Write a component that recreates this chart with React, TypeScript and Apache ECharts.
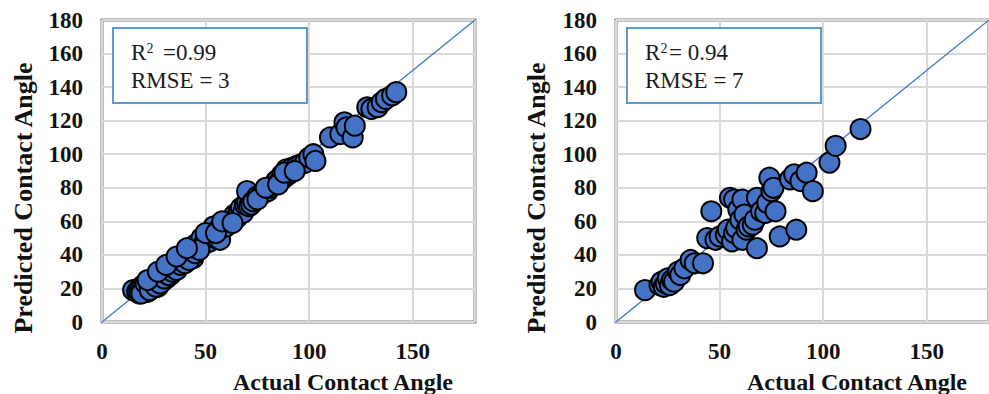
import React, { useEffect, useRef } from "react";
import * as echarts from "echarts";

// Left panel: actual vs predicted contact angle
const leftActual = [15, 17, 18, 18, 19, 20, 20, 21, 22, 22, 23, 23, 24, 24, 25, 25, 26, 26, 27, 27, 28, 28, 29, 29, 30, 30, 31, 31, 32, 32, 33, 33, 34, 34, 35, 35, 36, 37, 37, 38, 39, 39, 40, 41, 42, 43, 44, 44, 45, 46, 47, 48, 48, 49, 50, 51, 52, 53, 54, 55, 56, 57, 58, 59, 60, 61, 62, 64, 65, 66, 67, 68, 69, 70, 70, 71, 72, 73, 75, 77, 78, 80, 81, 83, 84, 85, 86, 87, 88, 89, 90, 91, 92, 94, 96, 98, 100, 102, 103, 110, 115, 117, 118, 121, 122, 128, 130, 133, 135, 137, 140, 142, 19, 21, 23, 26, 28, 30, 32, 34, 36, 38, 40, 42, 45, 47, 22, 27, 31, 36, 41, 50, 55, 58, 63, 75, 79, 85, 88, 93];
const leftPredicted = [19, 18, 20, 17, 21, 19, 22, 20, 18, 23, 21, 19, 20, 24, 22, 26, 23, 27, 24, 21, 26, 29, 27, 24, 28, 31, 29, 26, 30, 33, 31, 28, 33, 35, 32, 36, 34, 37, 33, 36, 38, 35, 37, 40, 39, 42, 38, 44, 46, 43, 45, 47, 50, 46, 49, 51, 48, 52, 57, 50, 55, 49, 56, 58, 57, 60, 61, 64, 62, 66, 68, 65, 70, 71, 78, 69, 70, 72, 75, 76, 77, 78, 80, 82, 84, 85, 84, 88, 86, 91, 88, 89, 92, 93, 94, 95, 98, 100, 96, 110, 112, 119, 116, 110, 117, 128, 127, 128, 131, 133, 135, 137, 17, 23, 19, 21, 23, 26, 28, 30, 31, 34, 35, 37, 41, 43, 25, 30, 34, 39, 44, 53, 53, 60, 59, 73, 80, 82, 89, 90];

// Right panel
const rightActual = [14, 21, 22, 23, 24, 25, 26, 27, 28, 30, 31, 33, 36, 38, 42, 44, 46, 48, 50, 53, 54, 55, 56, 57, 57, 58, 59, 60, 61, 61, 62, 63, 64, 66, 67, 68, 68, 70, 72, 73, 74, 75, 76, 77, 79, 84, 86, 87, 89, 92, 95, 103, 106, 118];
const rightPredicted = [19, 22, 24, 21, 23, 26, 22, 25, 24, 30, 28, 32, 37, 35, 35, 50, 66, 49, 51, 52, 55, 74, 48, 53, 73, 56, 67, 61, 49, 73, 64, 55, 57, 58, 61, 44, 74, 66, 65, 71, 86, 78, 80, 66, 51, 85, 88, 55, 84, 89, 78, 95, 105, 115];

const identityLine = [[0, 0], [180, 180]];
const leftStats = { r2: "=0.99", rmse: "RMSE = 3" };
const rightStats = { r2: "= 0.94", rmse: "RMSE = 7" };
const xTitle = "Actual Contact Angle";
const yTitle = "Predicted Contact Angle";

const SERIF = "Liberation Serif";
const BLUE = "#4472C4";

function zip(a: number[], b: number[]) {
  return a.map((v, i) => [v, b[i]]);
}

export default function App() {
  const ref = useRef<HTMLDivElement>(null);
  useEffect(() => {
    if (!ref.current) return;
    const chart = echarts.init(ref.current, null, { renderer: "svg" });

    const grids = [
      { left: 102, top: 20, width: 373, height: 302 },
      { left: 616, top: 20, width: 374, height: 302 },
    ];

    const labelStyle = {
      fontFamily: SERIF,
      fontWeight: "bold",
      fontSize: 23,
      color: "#111",
    };

    const mkX = (gi: number) => ({
      type: "value",
      gridIndex: gi,
      min: 0,
      max: 180,
      interval: 50,
      axisLine: { show: false },
      axisTick: { show: false },
      axisLabel: { showMaxLabel: false, margin: 18, ...labelStyle },
      splitLine: { show: true, lineStyle: { color: "#d9d9d9", width: 2 } },
    });
    const mkY = (gi: number) => ({
      type: "value",
      gridIndex: gi,
      min: 0,
      max: 180,
      interval: 20,
      axisLine: { show: false },
      axisTick: { show: false },
      axisLabel: { margin: 19, ...labelStyle },
      splitLine: { show: true, lineStyle: { color: "#d9d9d9", width: 2 } },
    });

    const scatterStyle = {
      color: BLUE,
      borderColor: "#000",
      borderWidth: 2,
      opacity: 1,
    };

    const txt = (x: number, y: number, text: string, size: number, extra: any = {}) => ({
      type: "text",
      x,
      y,
      z: 101,
      style: {
        text,
        fontFamily: SERIF,
        fontSize: size,
        fill: "#1a1a1a",
        textVerticalAlign: "middle",
        ...extra,
      },
    });

    const statBox = (bx: number, by: number, tx: number, r2x: number, stats: any) => [
      {
        type: "rect",
        z: 100,
        shape: { x: bx, y: by, width: 194, height: 75 },
        style: { fill: "#fff", stroke: "#5B9BD5", lineWidth: 2 },
      },
      txt(tx, 52, "R", 23),
      txt(tx + 15.5, 48.5, "2", 14),
      txt(r2x, 52, stats.r2, 23),
      txt(tx, 80, stats.rmse, 23),
    ];

    const titleX = (cx: number) => ({
      type: "text",
      x: cx,
      y: 382,
      style: {
        text: xTitle,
        fontFamily: SERIF,
        fontWeight: "bold",
        fontSize: 24,
        fill: "#111",
        textAlign: "center",
        textVerticalAlign: "middle",
      },
    });
    const titleY = (cx: number) => ({
      type: "text",
      x: cx,
      y: 198,
      rotation: Math.PI / 2,
      style: {
        text: yTitle,
        fontFamily: SERIF,
        fontWeight: "bold",
        fontSize: 26,
        fill: "#111",
        textAlign: "center",
        textVerticalAlign: "middle",
      },
    });

    chart.setOption({
      animation: false,
      grid: grids.map((g) => ({
        ...g,
        show: true,
        borderColor: "#7f7f7f",
        borderWidth: 3,
        backgroundColor: "#fff",
        containLabel: false,
      })),
      xAxis: [mkX(0), mkX(1)],
      yAxis: [mkY(0), mkY(1)],
      series: [
        {
          type: "line",
          xAxisIndex: 0,
          yAxisIndex: 0,
          data: identityLine,
          showSymbol: false,
          symbol: "none",
          lineStyle: { color: BLUE, width: 1.3 },
          silent: true,
          z: 1,
        },
        {
          type: "scatter",
          xAxisIndex: 0,
          yAxisIndex: 0,
          data: zip(leftActual, leftPredicted),
          symbolSize: 20,
          itemStyle: scatterStyle,
          z: 2,
        },
        {
          type: "line",
          xAxisIndex: 1,
          yAxisIndex: 1,
          data: identityLine,
          showSymbol: false,
          symbol: "none",
          lineStyle: { color: BLUE, width: 1.3 },
          silent: true,
          z: 1,
        },
        {
          type: "scatter",
          xAxisIndex: 1,
          yAxisIndex: 1,
          data: zip(rightActual, rightPredicted),
          symbolSize: 20,
          itemStyle: scatterStyle,
          z: 2,
        },
      ],
      graphic: [
        ...statBox(113, 28, 131, 163, leftStats),
        ...statBox(627, 28, 645, 669, rightStats),
        titleX(343),
        titleX(857),
        titleY(23),
        titleY(536),
      ],
    });
    return () => chart.dispose();
  }, []);

  return (
    <div
      ref={ref}
      style={{ position: "fixed", left: 0, top: 0, width: 989, height: 394, background: "#fff" }}
    />
  );
}
